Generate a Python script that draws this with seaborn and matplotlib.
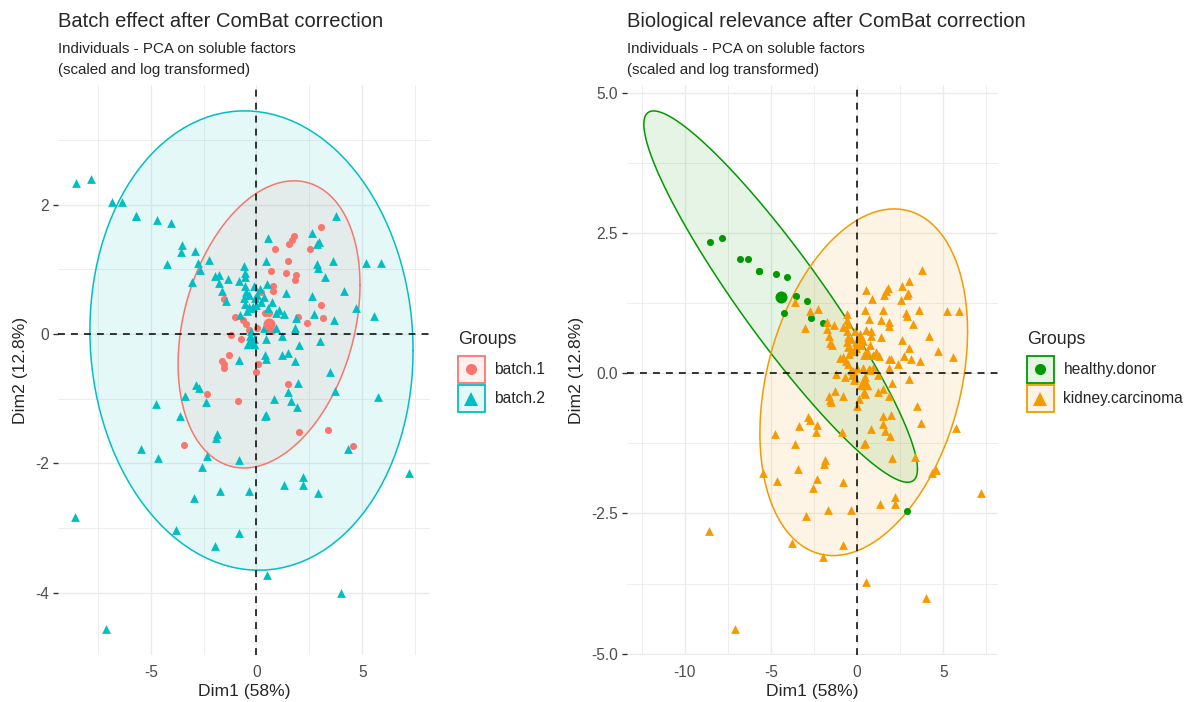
import numpy as np
import pandas as pd
import matplotlib
matplotlib.use("Agg")
import matplotlib.pyplot as plt
import seaborn as sns
from matplotlib.patches import Rectangle
from matplotlib.lines import Line2D
from matplotlib.legend_handler import HandlerBase
from matplotlib.ticker import MultipleLocator
from matplotlib.colors import to_rgba

# PCA coordinates (same individuals in both panels)
# batch.1 samples (all kidney carcinoma)
b1_dim1 = [3.03, 1.79, 1.69, 1.56, 0.87, 2.52, 1.48, 0.67, 1.39, 1.85, 1.83, 0.80, 0.79, 0.21,
           -1.55, 3.03, 3.13, 2.40, 1.97, -1.01, -0.62, -0.51, -0.34, 0.01, 0.41, 0.60, 0.66, 0.75,
           -1.20, -0.72, -0.18, -1.30, -1.65, -1.56, -1.54, 0.08, -0.01, -2.33, -0.89, 1.50, 2.00,
           3.38, -3.42, 4.56]
b1_dim2 = [1.65, 1.51, 1.46, 1.39, 1.32, 1.31, 1.13, 0.97, 0.94, 0.92, 0.84, 0.75, 0.66, 0.65,
           0.54, 0.45, 0.25, 0.17, 0.26, 0.27, 0.21, 0.16, 0.06, 0.10, 0.33, 0.32, 0.08, 0.05,
           -0.02, -0.07, -0.13, -0.32, -0.41, -0.47, -0.52, -0.46, -0.59, -0.92, -1.04, -0.77, -1.52,
           -1.49, -1.71, -1.73]

# batch.2 healthy donors
hd_dim1 = [-8.56, -7.84, -6.83, -6.35, -5.72, -5.68, -4.73, -4.06, -3.54, -2.91, -4.22, -2.68, -1.98, 2.92]
hd_dim2 = [2.33, 2.40, 2.04, 2.04, 1.82, 1.82, 1.77, 1.72, 1.37, 1.29, 1.08, 0.99, 0.89, -2.46]

# batch.2 kidney carcinoma
kc_dim1 = [-3.58, -2.75, -2.26, -3.04, -1.77, -1.76, -1.37, -1.62, -1.45, -0.83, -0.58, -0.56,
           -0.55, -0.56, -0.51, -0.59, -0.54, -0.35, -0.17, -0.80, -0.84, -0.30, -0.10, -0.25,
           0.53, 2.61, 2.87, 2.98, 0.43, 2.84, 2.92, 3.77, 3.62, 3.23, 5.19, 5.90, 4.16, 2.61,
           4.70, 5.57, 2.72, 3.66, 2.99, 1.38, 0.51, 1.08, 1.28, 0.91, 1.87, 1.83, 2.01, 1.19,
           1.51, 1.20, 1.83, 0.42, 0.45, 3.50, 0.04, 0.35, -0.35, 0.74, -0.04, -0.20, 0.91, 0.35,
           0.46, -0.10, 0.15, -0.05, 0.20, 0.55, -0.45,
           -2.88, -2.72, -3.36, -2.37, -4.76, -3.62, -1.89, -1.93, -5.47, -4.65, -2.34, -2.56,
           -0.83, -2.95, -1.72, -0.34, 1.30, 2.20, 2.20, 7.20, 4.33, 5.74, 3.73, 1.97, 1.50,
           1.63, 1.90, 0.82, 0.43, 0.39, -8.59, -3.80, -0.84, -1.96, 0.51, 4.02, -7.12]
kc_dim2 = [1.27, 1.10, 1.15, 0.80, 0.91, 0.79, 0.85, 0.66, 0.51, 0.82, 1.05, 0.94,
           0.88, 0.75, 0.65, 0.55, 0.47, 0.42, 0.42, 0.29, -0.40, -0.03, -0.08, 0.04,
           1.49, 1.56, 1.40, 1.42, 1.13, 1.08, 1.02, 1.83, 1.13, 0.88, 1.10, 1.10, 0.67, 0.59,
           0.40, 0.28, 0.31, 0.21, -0.11, 0.64, 0.77, 0.37, 0.31, 0.32, 0.25, 0.10, -0.17, -0.03,
           -0.29, -0.33, -0.41, -0.33, -0.38, -0.58, 0.60, 0.58, 0.60, 0.50, 0.45, 0.40, 0.09, 0.09,
           -0.07, 0.75, 0.70, 0.55, 0.50, 0.40, 0.35,
           -0.78, -0.83, -0.95, -1.05, -1.08, -1.26, -1.55, -1.61, -1.78, -1.92, -1.89, -2.05,
           -1.94, -2.54, -2.43, -2.43, -2.34, -2.21, -2.33, -2.14, -1.78, -0.97, -0.88, -0.75, -0.90,
           -1.03, -1.12, -1.00, -1.25, -1.27, -2.82, -3.03, -3.07, -3.27, -3.72, -4.00, -4.56]

batch_levels = ["batch.1", "batch.2"]
bio_levels = ["healthy.donor", "kidney.carcinoma"]

df = pd.DataFrame({
    "dim1": b1_dim1 + hd_dim1 + kc_dim1,
    "dim2": b1_dim2 + hd_dim2 + kc_dim2,
    "batch": ["batch.1"] * len(b1_dim1) + ["batch.2"] * (len(hd_dim1) + len(kc_dim1)),
    "bio": ["kidney.carcinoma"] * len(b1_dim1) + ["healthy.donor"] * len(hd_dim1)
           + ["kidney.carcinoma"] * len(kc_dim1),
})

sns.set_theme(style="white")
plt.rcParams["font.family"] = ["Liberation Sans", "DejaVu Sans"]
plt.rcParams["axes.unicode_minus"] = False

W, H = 1197, 702


def norm_ellipse(x, y, level=0.95, segments=120):
    # same recipe as ggplot2 stat_ellipse(type = "norm")
    x = np.asarray(x, float)
    y = np.asarray(y, float)
    n = len(x)
    cov = np.cov(x, y)
    m = n - 1
    qf = m / 2 * ((1 - level) ** (-2 / m) - 1)
    radius = np.sqrt(2 * qf)
    t = np.linspace(0, 2 * np.pi, segments)
    circle = np.column_stack([np.cos(t), np.sin(t)])
    pts = radius * circle @ np.linalg.cholesky(cov).T + [x.mean(), y.mean()]
    return pts[:, 0], pts[:, 1]


class LegendKey:
    def __init__(self, color, marker, ms):
        self.color, self.marker, self.ms = color, marker, ms


class KeyHandler(HandlerBase):
    # ggplot-like key: tinted box with coloured border and the marker centred in it
    def create_artists(self, legend, orig, xdescent, ydescent, width, height, fontsize, trans):
        box = Rectangle((-xdescent, -ydescent), width, height, facecolor=to_rgba(orig.color, 0.1),
                        edgecolor=orig.color, linewidth=1.3, transform=trans)
        cx, cy = -xdescent + width / 2, -ydescent + height / 2
        mk = Line2D([cx], [cy], linestyle="none", marker=orig.marker, markersize=orig.ms,
                    color=orig.color, markeredgewidth=0, transform=trans)
        return [box, mk]


def draw_panel(ax, col, levels, colors, markers, sizes, mean_sizes, ymajor):
    for g in levels:
        sub = df[df[col] == g]
        ex, ey = norm_ellipse(sub.dim1, sub.dim2)
        ax.fill(ex, ey, color=colors[g], alpha=0.1, lw=0, zorder=1)
        ax.plot(ex, ey, color=colors[g], lw=1.1, zorder=2)
    for g in levels:
        sub = df[df[col] == g]
        sns.scatterplot(x=sub.dim1, y=sub.dim2, ax=ax, color=colors[g], marker=markers[g],
                        s=sizes[g], linewidth=0, legend=False, zorder=3)
    for g in levels:
        sub = df[df[col] == g]
        sns.scatterplot(x=[sub.dim1.mean()], y=[sub.dim2.mean()], ax=ax, color=colors[g],
                        marker=markers[g], s=mean_sizes[g], linewidth=0, legend=False, zorder=4)
    ax.axhline(0, color="black", lw=1.1, dashes=(4.5, 4), zorder=5)
    ax.axvline(0, color="black", lw=1.1, dashes=(4.5, 4), zorder=5)

    ax.xaxis.set_major_locator(MultipleLocator(5))
    ax.xaxis.set_minor_locator(MultipleLocator(2.5))
    ax.yaxis.set_major_locator(MultipleLocator(ymajor))
    ax.yaxis.set_minor_locator(MultipleLocator(ymajor / 2))
    ax.grid(which="major", color="#EBEBEB", lw=1.0)
    ax.grid(which="minor", color="#EBEBEB", lw=0.6)
    ax.set_axisbelow(True)
    for s in ax.spines.values():
        s.set_visible(False)
    ax.tick_params(axis="x", which="major", length=0, pad=7, labelsize=11.2, labelcolor="#4D4D4D")
    ax.tick_params(axis="y", which="major", length=3.5, width=1.0, color="#333333", pad=3,
                   labelsize=11.2, labelcolor="#4D4D4D", left=True)
    ax.tick_params(which="minor", length=0)
    ax.set_xlabel("Dim1 (58%)", fontsize=12.6, labelpad=3)
    ax.set_ylabel("Dim2 (12.8%)", fontsize=12.6, labelpad=5)


def add_legend(fig, levels, colors, markers, msizes, x_px, y_px):
    fig.text(x_px / W, 1 - 340 / H, "Groups", fontsize=12.8, va="center", ha="left")
    handles = [LegendKey(colors[g], markers[g], msizes[g]) for g in levels]
    fig.legend(handles, levels, loc="upper left", bbox_to_anchor=(x_px / W, 1 - y_px / H),
               frameon=False, handler_map={LegendKey: KeyHandler()},
               handlelength=1.72, handleheight=2.28, handletextpad=0.62, labelspacing=0.15,
               borderpad=0, borderaxespad=0, fontsize=11.2)


fig = plt.figure(figsize=(W / 100, H / 100), dpi=100)
ax1 = fig.add_axes([58 / W, 1 - 655 / H, (430 - 58) / W, (655 - 85) / H])
ax2 = fig.add_axes([627 / W, 1 - 655 / H, (998 - 627) / W, (655 - 85) / H])

batch_colors = {"batch.1": "#F8766D", "batch.2": "#00BFC4"}
bio_colors = {"healthy.donor": "#009900", "kidney.carcinoma": "#F59A00"}

draw_panel(ax1, "batch", batch_levels, batch_colors,
           {"batch.1": "o", "batch.2": "^"}, {"batch.1": 26, "batch.2": 40},
           {"batch.1": 75, "batch.2": 125}, 2)
draw_panel(ax2, "bio", bio_levels, bio_colors,
           {"healthy.donor": "o", "kidney.carcinoma": "^"},
           {"healthy.donor": 26, "kidney.carcinoma": 40},
           {"healthy.donor": 75, "kidney.carcinoma": 125}, 2.5)

add_legend(fig, batch_levels, batch_colors, {"batch.1": "o", "batch.2": "^"},
           {"batch.1": 8, "batch.2": 10}, 458, 356)
add_legend(fig, bio_levels, bio_colors, {"healthy.donor": "o", "kidney.carcinoma": "^"},
           {"healthy.donor": 8, "kidney.carcinoma": 10}, 1027, 356)

for x0, title in [(58, "Batch effect after ComBat correction"),
                  (627, "Biological relevance after ComBat correction")]:
    fig.text(x0 / W, 1 - 27 / H, title, fontsize=14.5, ha="left", va="baseline")
    fig.text(x0 / W, 1 - 53 / H, "Individuals - PCA on soluble factors",
             fontsize=10.9, ha="left", va="baseline")
    fig.text(x0 / W, 1 - 74 / H, "(scaled and log transformed)",
             fontsize=10.9, ha="left", va="baseline")

fig.savefig("out.png", dpi=100)
